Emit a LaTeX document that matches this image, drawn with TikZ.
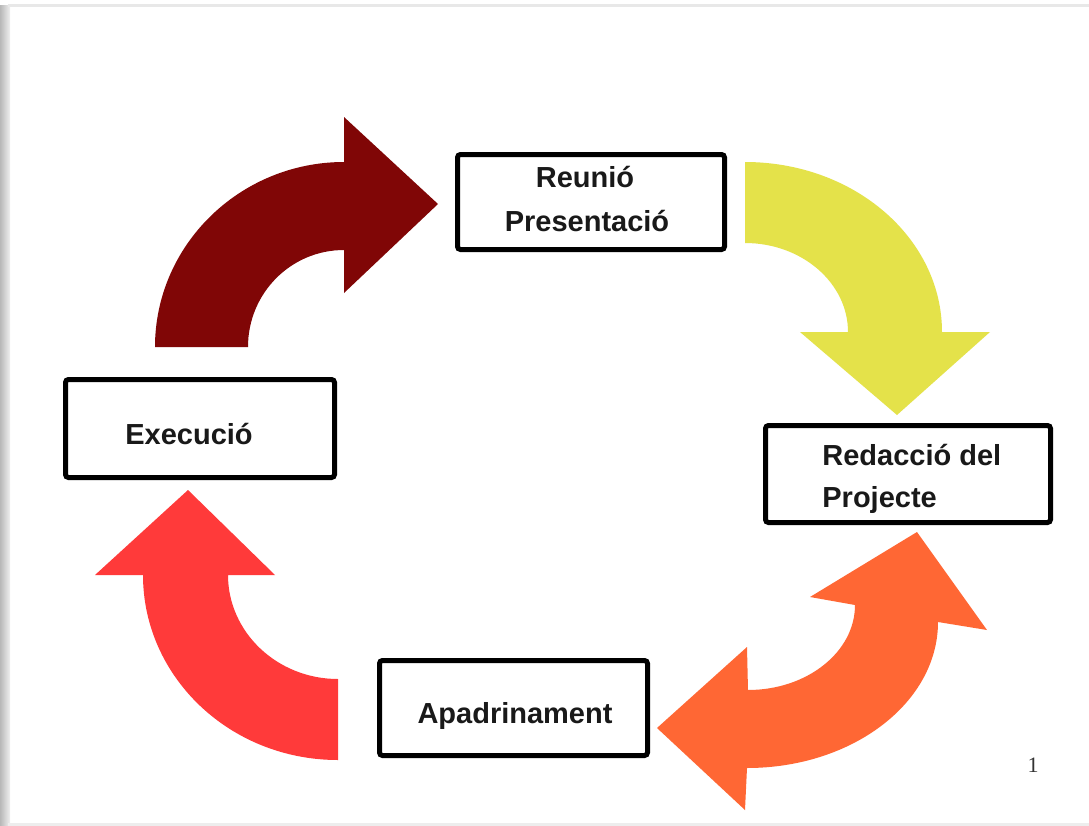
\documentclass[tikz,border=0pt]{standalone}
\usepackage{fontspec}
\setmainfont{Liberation Sans}
\newfontfamily\pgnumfont{Liberation Serif}
\definecolor{cDarkRed}{RGB}{128,6,6}
\definecolor{cYellow}{RGB}{228,226,74}
\definecolor{cRed}{RGB}{255,58,58}
\definecolor{cOrange}{RGB}{255,103,52}
\begin{document}
\begin{tikzpicture}[x=0.5pt,y=-0.5pt,
  box/.style={draw=black, line width=2.5pt, rounded corners=1.5pt, fill=white, inner sep=0pt},
  lbl/.style={font=\bfseries\fontsize{14.5}{17}\selectfont, text=black!90, inner sep=0pt, anchor=base},
  pgnum/.style={font=\pgnumfont\fontsize{11}{13}\selectfont, text=black!80, inner sep=0pt, anchor=base}]
\useasboundingbox (0,0) rectangle (1089,826);
% page and shadow
\fill[white] (0,0) rectangle (1089,826);
\shade[left color=black!28, right color=black!6] (0,5) rectangle (10,826);
\fill[black!9] (8,4) rectangle (1089,7);
\fill[black!7] (8,823) rectangle (1089,826);
% dark red arrow (Execucio -> Reunio)
\fill[cDarkRed] (155,347) .. controls (155,245) and (240,162) .. (344,162)
  -- (344,117) -- (438,204) -- (344,293) -- (344,250)
  .. controls (291,250) and (248,293) .. (248,347) -- cycle;
% yellow arrow (Reunio -> Redaccio)
\fill[cYellow] (745,162) .. controls (854,162) and (942,238) .. (942,332)
  -- (990,332) -- (897,415) -- (800,332) -- (848,332)
  .. controls (848,283) and (802,243) .. (745,243) -- cycle;
% red arrow (Apadrinament -> Execucio)
\fill[cRed] (338,760) .. controls (230,760) and (143,677) .. (143,575)
  -- (95,575) -- (188,490) -- (275,575) -- (228,575)
  .. controls (228,632) and (277,679) .. (338,679) -- cycle;
% orange double arrow (Apadrinament <-> Redaccio)
\fill[cOrange] (747,768) .. controls (852,768) and (938,703) .. (938,622)
  -- (987,630) -- (917,532) -- (810,597) -- (855,605)
  .. controls (855,652) and (807,690) .. (748,690)
  -- (747,647) -- (657,728) -- (745,810) -- cycle;
% boxes
\node[box, minimum width=133.5pt, minimum height=47.5pt] (reunio) at (591,202) {};
\node[box, minimum width=134.5pt, minimum height=49pt] (execucio) at (200,428.5) {};
\node[box, minimum width=142.5pt, minimum height=48.5pt] (redaccio) at (908,474) {};
\node[box, minimum width=134pt, minimum height=47.5pt] (apadrinament) at (513.5,708) {};
% labels
\node[lbl] (t1a) at (585,187) {Reunió};
\node[lbl] (t1b) at (587,231) {Presentació};
\node[lbl] (t2) at (189,444) {Execució};
\node[lbl, anchor=base west] (t3a) at (822,465) {Redacció del};
\node[lbl, anchor=base west] (t3b) at (822,507) {Projecte};
\node[lbl] (t4) at (515,723) {Apadrinament};
\node[pgnum] (pg) at (1033,772) {1};
\end{tikzpicture}
\end{document}
